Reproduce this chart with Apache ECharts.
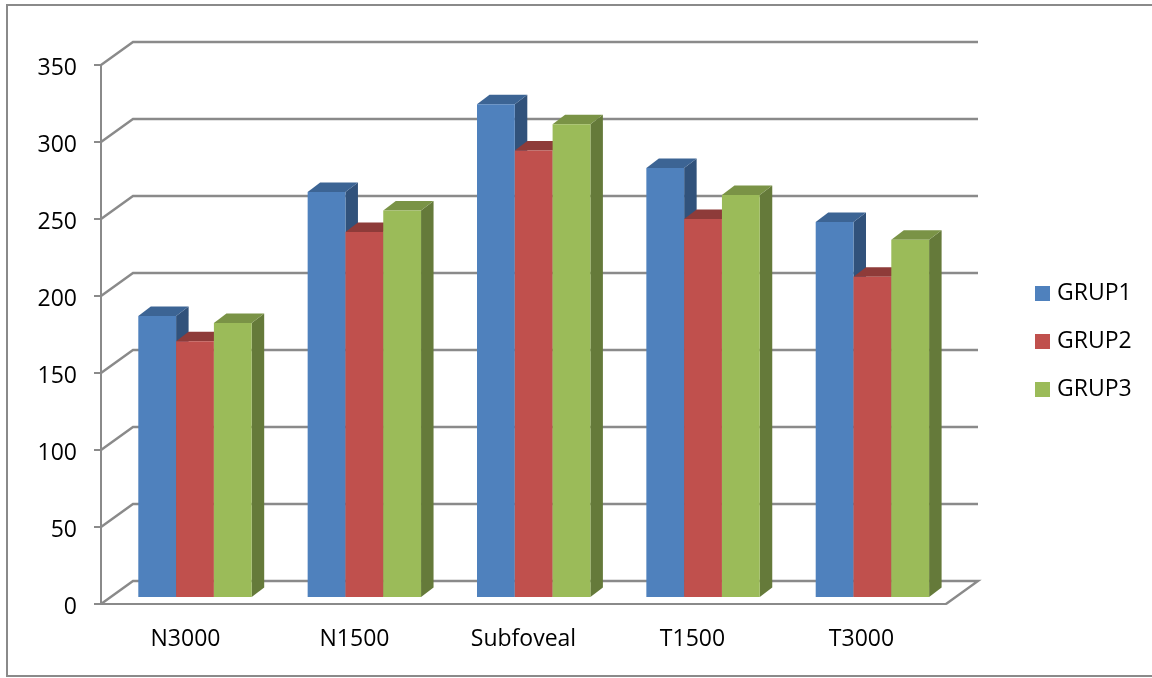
<!DOCTYPE html>
<html>
<head>
<meta charset="utf-8">
<style>
  html, body { margin: 0; padding: 0; background: #fff; }
  #chart { width: 1152px; height: 678px; }
</style>
<script src="https://cdn.jsdelivr.net/npm/echarts@6/dist/echarts.min.js"></script>
</head>
<body>
<div id="chart"></div>
<script>
const categories = ['N3000', 'N1500', 'Subfoveal', 'T1500', 'T3000'];
const grup1 = [182.5, 263, 320, 278.5, 243.5];
const grup2 = [166, 237, 290, 245.5, 208];
const grup3 = [178, 251, 307, 261, 232];
const yTicks = [0, 50, 100, 150, 200, 250, 300, 350];

// 3d look: depth of the wall and of a bar, in pixels
const wallX = 32, wallY = 23;
const barDX = 12.5, barDY = 9.5;
const barW = 37.8, groupShift = 9.5, groupDrift = 0.35, floorLift = 7;
const lineColor = '#8a8a8a';
const fontName = 'Open Sans';

function wall(params, api) {
  const box = params.coordSys;
  const y = api.coord([0, api.value(1)])[1];
  const left = box.x, right = box.x + box.width;
  const pts = [[left, y], [left + wallX, y - wallY], [right + wallX, y - wallY]];
  // floor also closes on the right side
  if (api.value(1) === 0) pts.push([right, y]);
  return {
    type: 'polyline',
    shape: { points: pts },
    style: { stroke: lineColor, lineWidth: 2.4, fill: null }
  };
}

function bar3d(index, front, top, side) {
  return function (params, api) {
    const center = api.coord([api.value(0), 0])[0];
    const y = api.coord([api.value(0), api.value(1)])[1] - floorLift;
    const y0 = api.coord([api.value(0), 0])[1] - floorLift;
    const x = center + groupShift + api.value(0) * groupDrift - 1.5 * barW + index * barW;
    const r = x + barW;
    return {
      type: 'group',
      children: [
        { type: 'polygon', shape: { points: [[r, y], [r + barDX, y - barDY], [r + barDX, y0 - barDY], [r, y0]] }, style: { fill: side } },
        { type: 'polygon', shape: { points: [[x, y], [x + barDX, y - barDY], [r + barDX, y - barDY], [r, y]] }, style: { fill: top } },
        { type: 'rect', shape: { x: x, y: y, width: barW, height: y0 - y }, style: { fill: front } }
      ]
    };
  };
}

function barSeries(name, values, index, front, top, side) {
  return {
    name: name,
    type: 'custom',
    z: 3,
    itemStyle: { color: front },
    renderItem: bar3d(index, front, top, side),
    data: values.map((v, i) => [i, v])
  };
}

const myChart = echarts.init(document.getElementById('chart'), null, { renderer: 'canvas' });
myChart.setOption({
  animation: false,
  backgroundColor: '#fff',
  textStyle: { fontFamily: fontName },
  graphic: [{
    type: 'rect',
    z: -1,
    shape: { x: 7, y: 5, width: 1160, height: 671 },
    style: { fill: null, stroke: lineColor, lineWidth: 2 }
  }],
  grid: { left: 101, right: 206, top: 65, bottom: 74 },
  legend: {
    orient: 'vertical',
    left: 1030,
    top: 277,
    data: ['GRUP1', 'GRUP2', 'GRUP3'],
    icon: 'rect',
    itemWidth: 15,
    itemHeight: 15,
    itemGap: 25,
    textStyle: { fontSize: 23, fontFamily: fontName, color: '#000', padding: [0, 0, 0, 2] }
  },
  xAxis: {
    type: 'category',
    data: categories,
    axisLine: { lineStyle: { color: lineColor, width: 2 } },
    axisTick: { length: 8, alignWithLabel: false, lineStyle: { color: lineColor, width: 2 } },
    axisLabel: { fontSize: 23, color: '#000', margin: 24, fontFamily: fontName }
  },
  yAxis: {
    type: 'value',
    min: 0,
    max: 350,
    interval: 50,
    splitLine: { show: false },
    axisLine: { show: true, lineStyle: { color: lineColor, width: 2 } },
    axisTick: { show: true, length: 7, lineStyle: { color: lineColor, width: 2 } },
    // top-anchored with a short line box, sits the digits a bit under the tick
    axisLabel: { fontSize: 23, color: '#000', margin: 24, verticalAlign: 'top', lineHeight: 7, fontFamily: fontName }
  },
  series: [
    { type: 'custom', name: 'wall', z: 1, silent: true, renderItem: wall, data: yTicks.map(v => [0, v]) },
    barSeries('GRUP1', grup1, 0, '#4f81bd', '#3c6494', '#31527b'),
    barSeries('GRUP2', grup2, 1, '#c0504d', '#8e3b39', '#7a3230'),
    barSeries('GRUP3', grup3, 2, '#9bbb59', '#7a9346', '#657a3a')
  ]
});
</script>
</body>
</html>
